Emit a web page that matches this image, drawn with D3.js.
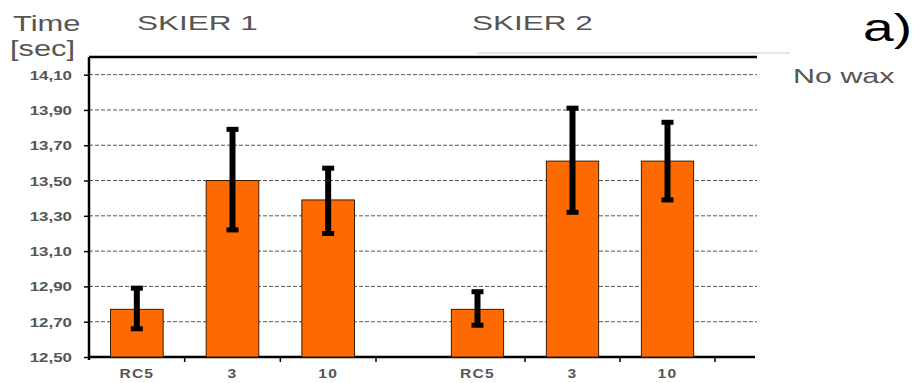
<!DOCTYPE html>
<html>
<head>
<meta charset="utf-8">
<script src="https://cdn.jsdelivr.net/npm/d3@7"></script>
<style>
  body { margin: 0; background: #fff; }
  text { font-family: Arial, "Liberation Sans", sans-serif; }
</style>
</head>
<body>
<svg id="chart" width="920" height="383"></svg>
<script>
// values
const categories = ["RC5", "3", "10"];
const skier1Means = [12.77, 13.50, 13.39];
const skier1Low = [12.66, 13.22, 13.20];
const skier1High = [12.89, 13.79, 13.57];
const skier2Means = [12.77, 13.61, 13.61];
const skier2Low = [12.68, 13.32, 13.39];
const skier2High = [12.87, 13.91, 13.83];
const yTicks = [12.5, 12.7, 12.9, 13.1, 13.3, 13.5, 13.7, 13.9, 14.1];

const svg = d3.select("#chart");
const grey = "#555";
const orange = "#ff6a00";

const plotLeft = 89, plotRight = 757, plotTop = 57, plotBottom = 357;

// the source picture is stretched sideways, so widen the glyphs a bit
const stretch = (sel, k) =>
  sel.each(function () {
    const w = this.getComputedTextLength();
    d3.select(this).attr("textLength", w * k).attr("lengthAdjust", "spacingAndGlyphs");
  });

const y = d3.scaleLinear().domain([12.5, 14.2]).range([plotBottom, plotTop]);
const locale = d3.formatLocale({ decimal: ",", thousands: ".", grouping: [3], currency: ["", ""] });
const fmt = locale.format(".2f");

// gridlines
svg.append("g")
  .selectAll("line")
  .data(yTicks.slice(1))
  .enter()
  .append("line")
  .attr("x1", plotLeft)
  .attr("x2", plotRight)
  .attr("y1", (d) => y(d))
  .attr("y2", (d) => y(d))
  .attr("stroke", "#555")
  .attr("stroke-width", 1)
  .attr("stroke-dasharray", "4,2");

// y axis
const yAxis = svg.append("g")
  .attr("transform", `translate(${plotLeft},0)`)
  .call(d3.axisLeft(y).tickValues(yTicks).tickFormat(fmt).tickSize(5).tickSizeOuter(0));
yAxis.select(".domain").remove();
yAxis.selectAll(".tick line").attr("stroke", "#000").attr("stroke-width", 1.5);
yAxis.selectAll(".tick text")
  .attr("x", -17)
  .attr("dy", "0.35em")
  .attr("fill", grey)
  .style("font-size", "13px")
  .style("font-weight", "bold")
  .call(stretch, 1.3);

// frame lines
svg.append("line").attr("x1", plotLeft).attr("x2", plotLeft).attr("y1", plotTop).attr("y2", plotBottom + 3)
  .attr("stroke", "#000").attr("stroke-width", 2.5);
svg.append("line").attr("x1", plotLeft).attr("x2", plotRight).attr("y1", plotTop).attr("y2", plotTop)
  .attr("stroke", "#000").attr("stroke-width", 2.5);
svg.append("line").attr("x1", plotLeft).attr("x2", plotRight - 2).attr("y1", plotBottom).attr("y2", plotBottom)
  .attr("stroke", "#000").attr("stroke-width", 2.5);
svg.append("line").attr("x1", 477).attr("x2", 790).attr("y1", 53).attr("y2", 53)
  .attr("stroke", "#ccc").attr("stroke-width", 1);

const groups = [
  { means: skier1Means, low: skier1Low, high: skier1High, range: [89, 376] },
  { means: skier2Means, low: skier2Low, high: skier2High, range: [430, 715] },
];

groups.forEach((g) => {
  const x = d3.scaleBand().domain(categories).range(g.range);
  const bw = x.bandwidth() * 0.55;
  const cx = (c) => x(c) + x.bandwidth() / 2;

  // category ticks at band edges
  const edges = categories.map((c) => x(c) + x.bandwidth());
  svg.append("g")
    .selectAll("line")
    .data(edges)
    .enter()
    .append("line")
    .attr("x1", (d) => d)
    .attr("x2", (d) => d)
    .attr("y1", plotBottom)
    .attr("y2", plotBottom + 5)
    .attr("stroke", "#000")
    .attr("stroke-width", 1.5);

  svg.append("g")
    .selectAll("rect")
    .data(categories)
    .enter()
    .append("rect")
    .attr("x", (c) => cx(c) - bw / 2)
    .attr("width", bw)
    .attr("y", (c, i) => y(g.means[i]))
    .attr("height", (c, i) => plotBottom - y(g.means[i]))
    .attr("fill", orange)
    .attr("stroke", "#3a1a00")
    .attr("stroke-width", 1);

  const err = svg.append("g")
    .selectAll("g")
    .data(categories)
    .enter()
    .append("g");
  err.append("line")
    .attr("x1", cx).attr("x2", cx)
    .attr("y1", (c, i) => y(g.high[i]))
    .attr("y2", (c, i) => y(g.low[i]))
    .attr("stroke", "#000")
    .attr("stroke-width", 6);
  [g.high, g.low].forEach((arr) => {
    err.append("line")
      .attr("x1", (c) => cx(c) - 6)
      .attr("x2", (c) => cx(c) + 6)
      .attr("y1", (c, i) => y(arr[i]))
      .attr("y2", (c, i) => y(arr[i]))
      .attr("stroke", "#000")
      .attr("stroke-width", 5);
  });

  svg.append("g")
    .selectAll("text")
    .data(categories)
    .enter()
    .append("text")
    .attr("x", cx)
    .attr("y", 378)
    .attr("text-anchor", "middle")
    .attr("fill", grey)
    .style("font-size", "13px")
    .style("font-weight", "bold")
    .style("letter-spacing", "1px")
    .text((c) => c)
    .call(stretch, 1.2);
});

// titles and labels
const label = (txt, x, yy, size, color, k) =>
  svg.append("text")
    .attr("x", x)
    .attr("y", yy)
    .attr("fill", color)
    .style("font-size", size + "px")
    .text(txt)
    .call(stretch, k);

label("Time", 13, 31, 22, grey, 1.4);
label("[sec]", 10, 56, 22, grey, 1.4);
label("SKIER 1", 137, 30, 21, grey, 1.5);
label("SKIER 2", 472, 30, 21, grey, 1.5);
label("a)", 863, 41, 38, "#000", 1.45);
label("No wax", 793, 83, 21, grey, 1.45);
</script>
</body>
</html>
